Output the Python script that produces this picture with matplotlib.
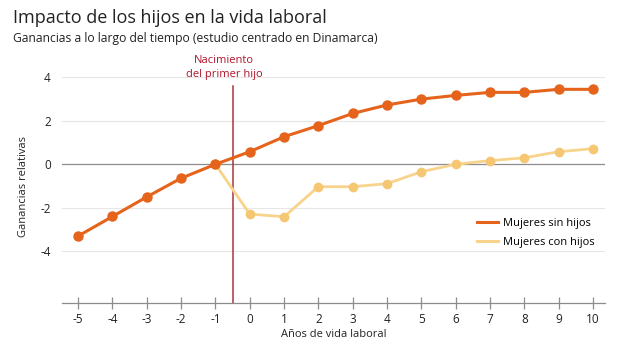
import numpy as np
import matplotlib.pyplot as plt

plt.rcParams['font.family'] = ['Open Sans', 'DejaVu Sans']

# Data
years = [-5, -4, -3, -2, -1, 0, 1, 2, 3, 4, 5, 6, 7, 8, 9, 10]
sin_hijos = [-3.3, -2.4, -1.5, -0.64, 0.0, 0.58, 1.27, 1.78, 2.34, 2.73, 3.0, 3.17, 3.31, 3.31, 3.45, 3.45]
con_years = [-1, 0, 1, 2, 3, 4, 5, 6, 7, 8, 9, 10]
con_hijos = [0.0, -2.29, -2.41, -1.03, -1.03, -0.89, -0.34, 0.0, 0.17, 0.30, 0.58, 0.72]
y_ticks = [4, 2, 0, -2, -4]
birth_x = -0.5

dark = '#E5631A'
light = '#F8D38C'
light_marker = '#F6C773'

fig = plt.figure(figsize=(6.2, 3.49), dpi=100)
ax = fig.add_axes([0.1, 0.1318, 0.8758, 0.6652])

for t in [-4, -2, 2, 4]:
    ax.axhline(t, color='#E6E6E6', lw=0.8, zorder=0)
ax.axhline(0, color='#8C8C8C', lw=0.9, zorder=1)

ax.axvline(birth_x, ymin=0, ymax=(3.6 + 6.38) / 10.68, color='#A8353C', lw=1.1, zorder=2)

ax.plot(con_years, con_hijos, color=light, lw=2, marker='o', ms=6,
        mfc=light_marker, mec=light_marker, zorder=3, label='Mujeres con hijos')
ax.plot(years, sin_hijos, color=dark, lw=2.2, marker='o', ms=6.5,
        mfc=dark, mec=dark, zorder=4, label='Mujeres sin hijos')

ax.set_xlim(-5.47, 10.35)
ax.set_ylim(-6.38, 4.3)
ax.set_xticks(years)
ax.set_xticklabels([str(v) for v in years])
ax.set_yticks(y_ticks)
ax.set_yticklabels([str(v) for v in y_ticks])

for s in ['top', 'right', 'left']:
    ax.spines[s].set_visible(False)
ax.spines['bottom'].set_color('#8C8C8C')
ax.spines['bottom'].set_linewidth(0.9)
ax.tick_params(axis='x', direction='inout', length=8, color='#8C8C8C', width=0.9,
               labelsize=8.5, pad=3, labelcolor='#222222')
ax.tick_params(axis='y', length=0, labelsize=8.5, pad=8, labelcolor='#222222')

ax.set_xlabel('Años de vida laboral', fontsize=8, color='#222222', labelpad=2)
ax.set_ylabel('Ganancias relativas', fontsize=8, color='#222222', labelpad=8)

handles, labels = ax.get_legend_handles_labels()
leg = ax.legend(handles[::-1], labels[::-1], loc='center left', bbox_to_anchor=(0.745, 0.303),
                frameon=False, fontsize=8, handlelength=1.9, handletextpad=0.5,
                labelspacing=0.7)
for line in leg.get_lines():
    line.set_marker('')
    line.set_linewidth(2.2)

ax.text(birth_x - 0.25, 4.45, 'Nacimiento\ndel primer hijo', ha='center', va='center',
        fontsize=8, color='#B0152A', linespacing=1.35)

fig.text(0.021, 0.948, 'Impacto de los hijos en la vida laboral', fontsize=13,
         color='#222222', va='center')
fig.text(0.021, 0.891, 'Ganancias a lo largo del tiempo (estudio centrado en Dinamarca)',
         fontsize=8.7, color='#222222', va='center')

fig.savefig('out.png', dpi=100)
